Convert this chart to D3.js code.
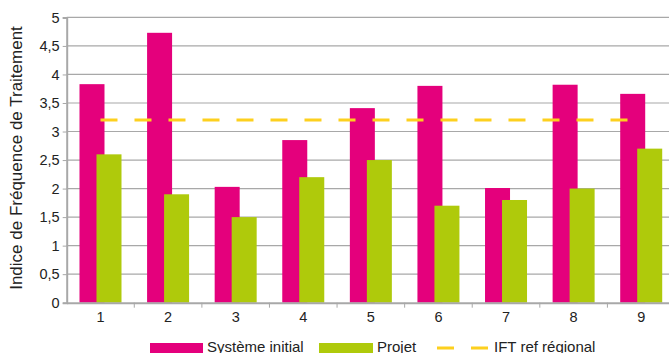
<!DOCTYPE html>
<html>
<head>
<meta charset="utf-8">
<script src="https://cdn.jsdelivr.net/npm/d3@7"></script>
<style>
  body { margin: 0; background: #fff; }
  text { font-family: "Liberation Sans", sans-serif; fill: #222; }
</style>
</head>
<body>
<script>
const categories = ["1", "2", "3", "4", "5", "6", "7", "8", "9"];
const systemeInitial = [3.83, 4.73, 2.03, 2.85, 3.41, 3.8, 2.01, 3.82, 3.66];
const projet = [2.6, 1.9, 1.5, 2.2, 2.5, 1.7, 1.8, 2.0, 2.7];
const iftRef = 3.2;
const yTicks = [0, 0.5, 1, 1.5, 2, 2.5, 3, 3.5, 4, 4.5, 5];
const legendLabels = ["Système initial", "Projet", "IFT ref régional"];

const pink = "#e4007c";
const green = "#afca0b";
const yellow = "#fdd01e";

const width = 669, height = 353;
const svg = d3.select("body").append("svg")
    .attr("width", width)
    .attr("height", height);

const x = d3.scaleBand()
    .domain(categories)
    .range([66.7, 675]);

const y = d3.scaleLinear()
    .domain([0, 5])
    .range([302.7, 17.4]);

// gridlines
svg.append("g")
    .selectAll("line")
    .data(yTicks.filter(d => d > 0))
    .enter().append("line")
    .attr("x1", 66.7)
    .attr("x2", width)
    .attr("y1", d => y(d))
    .attr("y2", d => y(d))
    .attr("stroke", "#a8a8a8")
    .attr("stroke-width", 1.2);

// bars
const barW = 25;
const off = 8.5;
svg.append("g")
    .selectAll("rect")
    .data(systemeInitial)
    .enter().append("rect")
    .attr("x", (d, i) => x(categories[i]) + x.bandwidth() / 2 - off - barW / 2)
    .attr("y", d => y(d))
    .attr("width", barW)
    .attr("height", d => y(0) - y(d))
    .attr("fill", pink);

svg.append("g")
    .selectAll("rect")
    .data(projet)
    .enter().append("rect")
    .attr("x", (d, i) => x(categories[i]) + x.bandwidth() / 2 + off - barW / 2)
    .attr("y", d => y(d))
    .attr("width", barW)
    .attr("height", d => y(0) - y(d))
    .attr("fill", green);

// reference line
svg.append("line")
    .attr("x1", x(categories[0]) + x.bandwidth() / 2)
    .attr("x2", x(categories[categories.length - 1]) + x.bandwidth() / 2)
    .attr("y1", y(iftRef))
    .attr("y2", y(iftRef))
    .attr("stroke", yellow)
    .attr("stroke-width", 3)
    .attr("stroke-dasharray", "17,17");

// y axis
const yAxis = svg.append("g")
    .attr("transform", "translate(66.7,0)")
    .call(d3.axisLeft(y).tickValues(yTicks).tickSize(4).tickPadding(3)
        .tickFormat(d => String(d).replace(".", ",")));
yAxis.select(".domain").attr("stroke", "#a8a8a8").attr("stroke-width", 2);
yAxis.selectAll(".tick line").attr("stroke", "#a8a8a8");
yAxis.selectAll("text").style("font-size", "14.5px").attr("fill", "#222");

// x axis
const xAxis = svg.append("g")
    .attr("transform", `translate(0,${y(0)})`)
    .call(d3.axisBottom(x).tickSize(0).tickPadding(9));
xAxis.select(".domain").attr("stroke", "#a8a8a8").attr("stroke-width", 2);
xAxis.selectAll("text").style("font-size", "14.5px").attr("fill", "#222");
svg.append("g")
    .selectAll("line")
    .data(categories.slice(1))
    .enter().append("line")
    .attr("x1", d => x(d))
    .attr("x2", d => x(d))
    .attr("y1", y(0))
    .attr("y2", y(0) + 5)
    .attr("stroke", "#a8a8a8");

// y title
svg.append("text")
    .attr("transform", "translate(22,158) rotate(-90)")
    .attr("text-anchor", "middle")
    .style("font-size", "17px")
    .text("Indice de Fréquence de Traitement");

// legend
const lg = svg.append("g");
lg.append("rect").attr("x", 150).attr("y", 343).attr("width", 53).attr("height", 10).attr("fill", pink);
lg.append("text").attr("x", 207).attr("y", 352).style("font-size", "15px").text(legendLabels[0]);
lg.append("rect").attr("x", 319).attr("y", 343).attr("width", 54).attr("height", 10).attr("fill", green);
lg.append("text").attr("x", 377).attr("y", 352).style("font-size", "15px").text(legendLabels[1]);
lg.append("line").attr("x1", 437).attr("x2", 489).attr("y1", 348).attr("y2", 348)
    .attr("stroke", yellow).attr("stroke-width", 3).attr("stroke-dasharray", "17,17");
lg.append("text").attr("x", 494).attr("y", 352).style("font-size", "15px").text(legendLabels[2]);
</script>
</body>
</html>
